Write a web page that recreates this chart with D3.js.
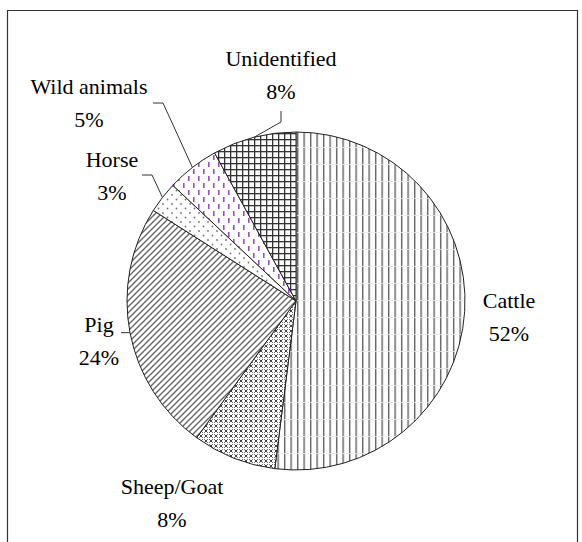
<!DOCTYPE html>
<html><head><meta charset="utf-8"><script src="https://cdn.jsdelivr.net/npm/d3@7/dist/d3.min.js"></script></head>
<body style="margin:0">
<svg id="s" width="582" height="542"></svg>
<script>
// ---- data ----
const categories = ["Cattle", "Sheep/Goat", "Pig", "Horse", "Wild animals", "Unidentified"];
const values = [52, 8, 24, 3, 5, 8];
const valueLabels = ["52%", "8%", "24%", "3%", "5%", "8%"];
const patternIds = ["pCattle", "pSheep", "pPig", "pHorse", "pWild", "pUnid"];

// ---- layout (not data) ----
const W = 582, H = 542;
const cx = 296, cy = 301, R = 169;
const labelLayout = {
  "Cattle":       {x: 509, y: 308, leader: null},
  "Sheep/Goat":   {x: 172, y: 494, leader: null},
  "Pig":          {x: 99,  y: 332, leader: [[121, null]]},
  "Horse":        {x: 112, y: 167, leader: [[142, 175], [152, 175]]},
  "Wild animals": {x: 89,  y: 94,  leader: [[153, 103], [163, 103]]},
  "Unidentified": {x: 281, y: 66,  leader: [[281, 111], [281, 122]]}
};

const svg = d3.select("#s");

const data = categories.map((c, i) => ({name: c, value: values[i], label: valueLabels[i], pid: patternIds[i]}));
const pie = d3.pie().value(d => d.value).sort(null).startAngle(0).endAngle(2 * Math.PI);
const arcs = pie(data);
const arc = d3.arc().innerRadius(0).outerRadius(R);

// frame
svg.append("path")
  .attr("d", `M7.5,${H} L7.5,10.5 L577.5,10.5 L577.5,${H}`)
  .attr("fill", "none").attr("stroke", "#333").attr("stroke-width", 1.2);

// ---- patterns ----
const defs = svg.append("defs");
function pat(id, w, h) {
  const p = defs.append("pattern").attr("id", id).attr("patternUnits", "userSpaceOnUse")
    .attr("width", w).attr("height", h);
  p.append("rect").attr("width", w).attr("height", h).attr("fill", "#fff");
  return p;
}
{
  const p = pat("pCattle", 6.5, 17);
  p.append("rect").attr("x", 1).attr("y", 0).attr("width", 1.3).attr("height", 17).attr("fill", "#555");
  p.append("rect").attr("x", 0).attr("y", 16).attr("width", 6.5).attr("height", 0.8).attr("fill", "#ececec");
}
{
  const p = pat("pSheep", 5, 5);
  p.append("path").attr("d", "M0,0 L5,5 M5,0 L0,5").attr("stroke", "#444").attr("stroke-width", 1);
  p.append("circle").attr("cx", 2.5).attr("cy", 2.5).attr("r", 1.2).attr("fill", "#fff");
}
{
  const p = pat("pPig", 6, 6);
  p.append("path").attr("d", "M-1.5,1.5 L1.5,-1.5 M0,6 L6,0 M4.5,7.5 L7.5,4.5")
    .attr("stroke", "#666").attr("stroke-width", 1.4);
}
{
  const p = pat("pHorse", 9, 9);
  p.append("circle").attr("cx", 2).attr("cy", 2).attr("r", 0.9).attr("fill", "#777");
  p.append("circle").attr("cx", 6.5).attr("cy", 6.5).attr("r", 0.9).attr("fill", "#777");
}
{
  const p = pat("pWild", 10, 14);
  p.append("rect").attr("x", 2).attr("y", 1).attr("width", 1.6).attr("height", 5).attr("fill", "#9a4fc0");
  p.append("rect").attr("x", 7).attr("y", 8).attr("width", 1.6).attr("height", 5).attr("fill", "#9a4fc0");
}
{
  const p = pat("pUnid", 6, 6);
  p.append("rect").attr("x", 0).attr("y", 0).attr("width", 1.3).attr("height", 6).attr("fill", "#333");
  p.append("rect").attr("x", 0).attr("y", 0).attr("width", 6).attr("height", 1.3).attr("fill", "#333");
}

// ---- pie ----
const g = svg.append("g").attr("transform", `translate(${cx},${cy})`);
g.selectAll("path.slice").data(arcs).join("path")
  .attr("class", "slice")
  .attr("d", arc)
  .attr("fill", d => `url(#${d.data.pid})`)
  .attr("stroke", "#222").attr("stroke-width", 1)
  .attr("stroke-linejoin", "round");

// ---- labels & leaders ----
arcs.forEach(a => {
  const L = labelLayout[a.data.name];
  [a.data.name, a.data.label].forEach((s, k) => {
    svg.append("text").attr("x", L.x).attr("y", L.y + 33 * k)
      .attr("text-anchor", "middle")
      .attr("font-family", "'Tinos'").attr("font-size", 22).text(s);
  });
  if (L.leader) {
    const mid = (a.startAngle + a.endAngle) / 2;
    const ex = cx + R * Math.sin(mid), ey = cy - R * Math.cos(mid);
    const pts = L.leader.map(p => [p[0], p[1] == null ? ey : p[1]]);
    pts.push([ex, ey]);
    svg.append("path").attr("d", d3.line()(pts))
      .attr("fill", "none").attr("stroke", "#333").attr("stroke-width", 1);
  }
});
</script></body></html>
